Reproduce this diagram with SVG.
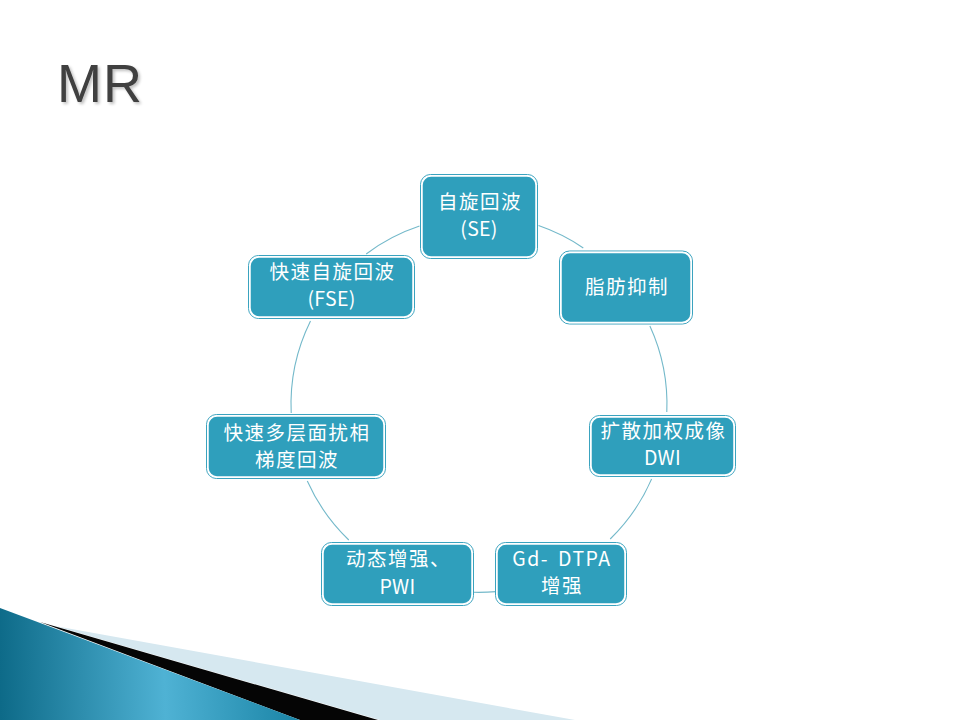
<svg xmlns="http://www.w3.org/2000/svg" width="960" height="720" viewBox="0 0 960 720">
<defs>
<linearGradient id="blueG" gradientUnits="userSpaceOnUse" x1="0" y1="700" x2="300" y2="690">
<stop offset="0" stop-color="#0d6a88"/>
<stop offset="0.55" stop-color="#4fb2d4"/>
<stop offset="1" stop-color="#1a84a6"/>
</linearGradient>
<filter id="sh" x="-10%" y="-10%" width="130%" height="130%">
<feGaussianBlur in="SourceAlpha" stdDeviation="1.5"/>
<feOffset dx="1.5" dy="1.5"/>
<feComponentTransfer><feFuncA type="linear" slope="0.25"/></feComponentTransfer>
<feMerge><feMergeNode/><feMergeNode in="SourceGraphic"/></feMerge>
</filter>
</defs>
<style>
.node rect.outer{fill:none;stroke:#3aa3bf;stroke-width:1}
.node rect.inner{fill:#2f9fbc;stroke:#ffffff;stroke-width:1.5}
.node text{fill:#ffffff;font-family:"Noto Sans CJK SC","Noto Sans",sans-serif;font-size:19.5px;text-anchor:middle}
.node tspan.cjk{letter-spacing:1.5px}
.node tspan.lat{letter-spacing:0.3px}
.conn path{fill:none;stroke:#74b9ca;stroke-width:1.1}
</style>
<rect x="0" y="0" width="960" height="720" fill="#ffffff"/>

<g id="decoration">
<polygon points="55,626 575,720 380,720" fill="#d6e8f0"/>
<polygon points="40,622 378,720 300,720" fill="#050505"/>
<polygon points="0,608 300,720 0,720" fill="url(#blueG)"/>
</g>

<text id="title" x="57" y="102" font-family="Liberation Sans, Arial, sans-serif" font-size="54" letter-spacing="1" fill="#3f3f3f" filter="url(#sh)">MR</text>

<g id="connectors" class="conn">
<path d="M538.5,225.6 A188,188 0 0 1 583.3,248"/>
<path d="M649.9,326 A188,188 0 0 1 666.8,412"/>
<path d="M651.6,479 A188,188 0 0 1 610.2,539"/>
<path d="M496,591.6 A188,188 0 0 1 473,592.3"/>
<path d="M348.8,540 A188,188 0 0 1 307.3,481"/>
<path d="M291.2,413 A188,188 0 0 1 310.5,321"/>
<path d="M366.2,254 A188,188 0 0 1 419.5,226.1"/>
</g>

<g id="node-se" class="node">
<rect class="outer" x="420.5" y="174.5" width="117" height="84" rx="10"/>
<rect class="inner" x="422" y="176" width="114" height="81" rx="9"/>
<text><tspan class="cjk" x="480" y="209">自旋回波</tspan><tspan class="lat" x="479" y="236">(SE)</tspan></text>
</g>

<g id="node-fat" class="node">
<rect class="outer" x="559.5" y="251" width="133" height="73" rx="10"/>
<rect class="inner" x="561" y="252.5" width="130" height="70" rx="9"/>
<text><tspan class="cjk" x="627" y="294">脂肪抑制</tspan></text>
</g>

<g id="node-dwi" class="node">
<rect class="outer" x="589.5" y="415.5" width="146" height="61" rx="10"/>
<rect class="inner" x="591" y="417" width="143" height="58" rx="9"/>
<text><tspan class="cjk" x="663.5" y="438">扩散加权成像</tspan><tspan class="lat" x="662.5" y="465">DWI</tspan></text>
</g>

<g id="node-gd" class="node">
<rect class="outer" x="495.5" y="542.5" width="131" height="63" rx="10"/>
<rect class="inner" x="497" y="544" width="128" height="60" rx="9"/>
<text><tspan x="562" y="566" letter-spacing="1.5" word-spacing="3">Gd- DTPA</tspan><tspan class="cjk" x="562" y="593">增强</tspan></text>
</g>

<g id="node-pwi" class="node">
<rect class="outer" x="321.5" y="542.5" width="152" height="63" rx="10"/>
<rect class="inner" x="323" y="544" width="149" height="60" rx="9"/>
<text><tspan class="cjk" x="398.5" y="566">动态增强、</tspan><tspan class="lat" x="397.5" y="594">PWI</tspan></text>
</g>

<g id="node-spgr" class="node">
<rect class="outer" x="206.5" y="414.5" width="179" height="64" rx="10"/>
<rect class="inner" x="208" y="416" width="176" height="61" rx="9"/>
<text><tspan class="cjk" x="297" y="440">快速多层面扰相</tspan><tspan class="cjk" x="297" y="467">梯度回波</tspan></text>
</g>

<g id="node-fse" class="node">
<rect class="outer" x="248.5" y="255.5" width="166" height="63" rx="10"/>
<rect class="inner" x="250" y="257" width="163" height="60" rx="9"/>
<text><tspan class="cjk" x="332.5" y="279">快速自旋回波</tspan><tspan class="lat" x="331.5" y="306">(FSE)</tspan></text>
</g>
</svg>
